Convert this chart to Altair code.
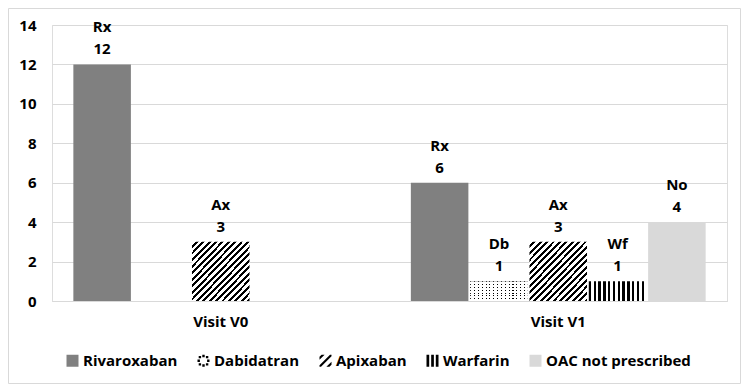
import altair as alt
import pandas as pd

groups = ["Visit V0", "Visit V1"]
series = ["Rivaroxaban", "Dabidatran", "Apixaban", "Warfarin", "OAC not prescribed"]
abbr = ["Rx", "Db", "Ax", "Wf", "No"]
values_v0 = [12, 0, 3, 0, 0]
values_v1 = [6, 1, 3, 1, 4]

rows = []
for g, vals in zip(groups, [values_v0, values_v1]):
    for s, a, v in zip(series, abbr, vals):
        rows.append({"group": g, "series": s, "abbr": a, "value": v})
df = pd.DataFrame(rows)

W, H = 675, 276
FONT = "Open Sans"
FS = 15


def stripes(n, c1, c2, frac, x2, y2):
    stops = []
    for i in range(n):
        a = i / n
        b = (i + frac) / n
        c = (i + 1) / n
        stops += [
            {"offset": a, "color": c1},
            {"offset": b, "color": c1},
            {"offset": b, "color": c2},
            {"offset": c, "color": c2},
        ]
    return {"gradient": "linear", "stops": stops, "x1": 0, "y1": 0, "x2": x2, "y2": y2}


fills = {
    "Rivaroxaban": ["#808080"],
    "Dabidatran": [stripes(7, "#000000", "#ffffff", 0.35, 0, 1),
                   stripes(15, "rgba(255,255,255,0)", "#ffffff", 0.3, 1, 0)],
    "Apixaban": [stripes(18, "#ffffff", "#000000", 0.55, 1, 1)],
    "Warfarin": [stripes(12, "#000000", "#ffffff", 0.5, 1, 0)],
    "OAC not prescribed": ["#d9d9d9"],
}

x_enc = alt.X("group:N", scale=alt.Scale(domain=groups, paddingInner=0, paddingOuter=0),
              axis=alt.Axis(title=None, labelAngle=0, ticks=False, domainColor="#d9d9d9",
                            labelPadding=13, labelFontSize=FS, labelFontWeight="bold",
                            labelColor="#000000", labelFont=FONT))
xo_enc = alt.XOffset("series:N", scale=alt.Scale(domain=series, paddingInner=0.03, paddingOuter=0.36))
y_enc = alt.Y("value:Q", scale=alt.Scale(domain=[0, 14], nice=False),
              axis=alt.Axis(title=None, values=list(range(0, 15, 2)), tickSize=0, ticks=False,
                            domain=False, gridColor="#d9d9d9", labelPadding=16,
                            labelFontSize=FS, labelFontWeight="bold", labelColor="#000000",
                            labelFont=FONT))

layers = []
for s in series:
    for f in fills[s]:
        layers.append(
            alt.Chart(df).transform_filter(alt.datum.series == s)
            .mark_bar(color=f)
            .encode(x=x_enc, xOffset=xo_enc, y=y_enc)
        )

text = (
    alt.Chart(df)
    .transform_filter("datum.value > 0")
    .transform_calculate(label="datum.abbr + '\\n' + datum.value")
    .mark_text(lineBreak="\n", baseline="bottom", dy=-29, lineHeight=22,
               fontSize=FS, fontWeight="bold", font=FONT, color="#000000")
    .encode(x=x_enc, xOffset=xo_enc, y=y_enc, text="label:N")
)

shape_paths = [
    "square",
    "M-0.2,-1h0.4v0.4h-0.4z M-0.2,0.6h0.4v0.4h-0.4z M-1,-0.2h0.4v0.4h-0.4z M0.6,-0.2h0.4v0.4h-0.4z "
    "M-0.8,-0.8h0.4v0.4h-0.4z M0.4,-0.8h0.4v0.4h-0.4z M-0.8,0.4h0.4v0.4h-0.4z M0.4,0.4h0.4v0.4h-0.4z",
    "M-1,-0.65L-0.65,-1L-0.15,-1L-1,-0.15Z M-1,0.75L0.75,-1L1,-1L1,-0.75L-0.75,1L-1,1Z "
    "M1,0.15L0.15,1L0.65,1L1,0.65Z",
    "M-1,-1h0.45v2h-0.45z M-0.22,-1h0.45v2h-0.45z M0.55,-1h0.45v2h-0.45z",
    "square",
]
legend_colors = ["#808080", "#000000", "#000000", "#000000", "#d9d9d9"]

leg = alt.Legend(title=None, orient="none", legendX=13, legendY=328, direction="horizontal",
                 columns=5, symbolSize=144, symbolStrokeWidth=0, symbolOpacity=1,
                 labelFontSize=FS, labelFontWeight="bold", labelFont=FONT, labelColor="#000000",
                 labelOffset=3, columnPadding=18)

legend_layer = (
    alt.Chart(df)
    .transform_filter("datum.value < 0")
    .mark_point(filled=True, strokeWidth=0)
    .encode(
        x=x_enc,
        y=y_enc,
        color=alt.Color("series:N", scale=alt.Scale(domain=series, range=legend_colors), legend=leg),
        shape=alt.Shape("series:N", scale=alt.Scale(domain=series, range=shape_paths), legend=leg),
    )
)

frame = (
    alt.Chart(pd.DataFrame({"k": [0]}))
    .mark_rect(fillOpacity=0, stroke="#d9d9d9", strokeWidth=1)
    .encode(x=alt.value(-43.5), x2=alt.value(W + 13.5), y=alt.value(-16.5), y2=alt.value(H + 82.5))
)

chart = (
    alt.layer(frame, *layers, text, legend_layer)
    .properties(width=W, height=H, autosize=alt.AutoSizeParams(type="none"),
                padding={"left": 44, "top": 17, "right": 14, "bottom": 83})
    .configure_view(stroke=None)
    .configure(font=FONT)
)

chart.save("out.html", embed_options={"renderer": "svg", "actions": False})
